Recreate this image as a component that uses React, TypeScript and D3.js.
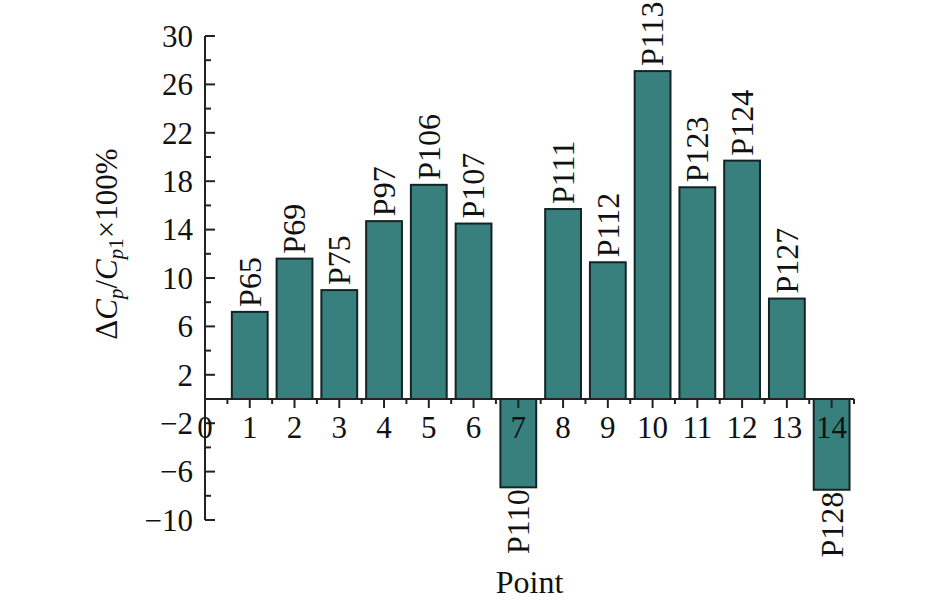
import React from "react";
import * as d3 from "d3";

const points = [1, 2, 3, 4, 5, 6, 7, 8, 9, 10, 11, 12, 13, 14];
const names = ["P65", "P69", "P75", "P97", "P106", "P107", "P110", "P111", "P112", "P113", "P123", "P124", "P127", "P128"];
const values = [7.2, 11.6, 9.0, 14.7, 17.7, 14.5, -7.3, 15.7, 11.3, 27.1, 17.5, 19.7, 8.3, -7.5];
const yMajorTicks = [-10, -6, -2, 2, 6, 10, 14, 18, 22, 26, 30];
const yMinorTicks = [-8, -4, 0, 4, 8, 12, 16, 20, 24, 28];
const xMajorTicks = [0, 1, 2, 3, 4, 5, 6, 7, 8, 9, 10, 11, 12, 13, 14];
const xMinorTicks = [0.5, 1.5, 2.5, 3.5, 4.5, 5.5, 6.5, 7.5, 8.5, 9.5, 10.5, 11.5, 12.5, 13.5, 14.5];

const W = 945;
const H = 605;
const FONT = "'Liberation Serif', 'DejaVu Serif', serif";
const FS_TICK = 31;
const FS_LAB = 32;
const FILL = "#37807e";
const STROKE = "#142424";
const AX = "#222222";

export default function App() {
  const x = d3.scaleLinear().domain([0, 14.5]).range([205, 854]);
  const y = d3.scaleLinear().domain([-10, 30]).range([520, 36]);
  const half = 0.4;
  const fmt = (v: number) => (v < 0 ? "\u2212" + Math.abs(v) : String(v));

  return (
    <svg width={W} height={H} style={{ position: "absolute", left: 0, top: 0, background: "#fff" }} fontFamily={FONT}>
      {/* bars */}
      {points.map((p, i) => {
        const v = values[i];
        const x0 = x(p - half);
        const x1 = x(p + half);
        const yt = y(Math.max(0, v));
        const yb = y(Math.min(0, v));
        return (
          <rect key={"b" + p} x={x0} y={yt} width={x1 - x0} height={yb - yt} fill={FILL} stroke={STROKE} strokeWidth={2} />
        );
      })}
      {/* bar labels */}
      {points.map((p, i) => {
        const v = values[i];
        const cx = x(p);
        if (v >= 0) {
          const yy = y(v) - 5;
          return (
            <text key={"l" + p} transform={`translate(${cx},${yy}) rotate(-90)`} dy="0.34em" textAnchor="start" fontSize={FS_LAB} fill="#111">
              {names[i]}
            </text>
          );
        }
        const yy = y(v) + 2;
        return (
          <text key={"l" + p} transform={`translate(${cx},${yy}) rotate(-90)`} dy="0.34em" textAnchor="end" fontSize={FS_LAB} fill="#111">
            {names[i]}
          </text>
        );
      })}
      {/* y axis */}
      <line x1={x(0)} x2={x(0)} y1={y(30)} y2={y(-10)} stroke={AX} strokeWidth={2} />
      {yMajorTicks.map((t) => (
        <g key={"ym" + t}>
          <line x1={x(0)} x2={x(0) + 10} y1={y(t)} y2={y(t)} stroke={AX} strokeWidth={2} />
          <text x={x(0) - 12} y={y(t)} dy="0.35em" textAnchor="end" fontSize={FS_TICK} fill="#111">
            {fmt(t)}
          </text>
        </g>
      ))}
      {yMinorTicks.map((t) => (
        <line key={"yn" + t} x1={x(0)} x2={x(0) + 6} y1={y(t)} y2={y(t)} stroke={AX} strokeWidth={2} />
      ))}
      {/* x axis */}
      <line x1={x(0)} x2={x(14.5)} y1={y(0)} y2={y(0)} stroke={AX} strokeWidth={2} />
      {xMajorTicks.map((t) => (
        <g key={"xm" + t}>
          <line x1={x(t)} x2={x(t)} y1={y(0)} y2={y(0) + 9} stroke={AX} strokeWidth={2} />
          <text x={x(t)} y={y(0) + 39} textAnchor="middle" fontSize={FS_TICK} fill="#111">
            {t}
          </text>
        </g>
      ))}
      {xMinorTicks.map((t) => (
        <line key={"xn" + t} x1={x(t)} x2={x(t)} y1={y(0)} y2={y(0) + 5} stroke={AX} strokeWidth={2} />
      ))}
      {/* axis titles */}
      <text x={(x(0) + x(14.5)) / 2} y={593} textAnchor="middle" fontSize={FS_LAB} fill="#111">
        Point
      </text>
      <text transform={`translate(117,244) rotate(-90)`} textAnchor="middle" fontSize={31} fill="#111">
        <tspan>Δ</tspan>
        <tspan fontStyle="italic">C</tspan>
        <tspan fontStyle="italic" fontSize={21} dy={6}>p</tspan>
        <tspan dy={-6}>/</tspan>
        <tspan fontStyle="italic">C</tspan>
        <tspan fontStyle="italic" fontSize={21} dy={6}>p</tspan>
        <tspan fontSize={21}>1</tspan>
        <tspan dy={-6}>×100%</tspan>
      </text>
    </svg>
  );
}
